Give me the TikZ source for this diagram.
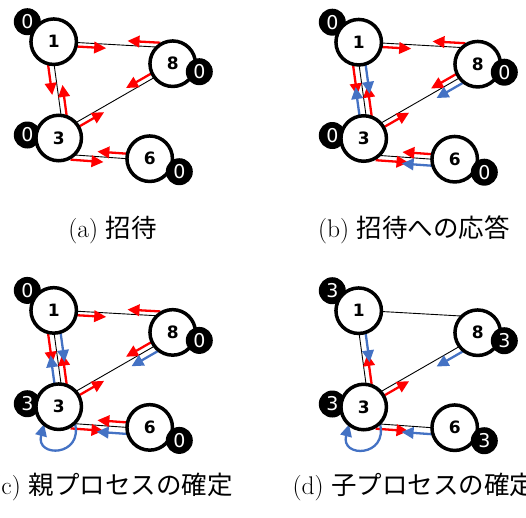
\documentclass[tikz,border=0pt]{standalone}
\usepackage{fontspec}
\usetikzlibrary{calc,arrows.meta}
\newfontfamily\vfont{DejaVu Sans}
\newfontfamily\jpfont{Noto Sans CJK JP}
\definecolor{ackblue}{RGB}{68,114,196}
\pgfdeclarelayer{bg}
\pgfsetlayers{bg,main}

\newcommand\arrlen{30pt}
% message arrow running beside the edge #2--#3, shifted #4 to the right of travel
\newcommand\flow[4]{\draw[#1] ($(#2)!-3pt!(#3)!#4!-90:(#2)$) -- ($(#2)!\arrlen!(#3)!#4!90:(#2)$);}

\tikzset{
  vtx/.style={circle, draw, line width=3.5pt, fill=white, minimum size=45.5pt,
    inner sep=0pt, outer sep=0pt, font=\vfont\bfseries\fontsize{17}{17}\selectfont},
  countbadge/.style={circle, fill=black, minimum size=27pt, inner sep=0pt,
    text=white, font=\vfont\fontsize{19}{19}\selectfont},
  edgeline/.style={line width=0.9pt},
  invite/.style={draw=red, line width=2.3pt, -{Triangle[length=12pt,width=11.5pt]}},
  reply/.style={draw=ackblue, line width=2.3pt, -{Triangle[length=12pt,width=11.5pt]}},
  capt/.style={anchor=base, font=\fontsize{25.5}{30}\selectfont},
}

% four processes with their counters; #1 = name prefix
\newcommand\procgraph[5]{%
  \node[vtx] (#11) at (53.7,41.7) {1};
  \node[vtx] (#18) at (172.7,63.7) {8};
  \node[vtx] (#13) at (58.7,138) {3};
  \node[vtx] (#16) at (149.7,158.7) {6};
  \node[countbadge] (#1t8) at (199.3,71.7) {#3};
  \node[countbadge] (#1t6) at (179.3,171.7) {#5};
  \begin{pgfonlayer}{bg}
    \node[countbadge] (#1t1) at (27.3,21.7) {#2};
    \node[countbadge] (#1t3) at (27.3,135) {#4};
    \draw[edgeline] (#11.-2) -- (#18.133);
    \draw[edgeline] (#11.-89) -- (#13.84);
    \draw[edgeline] (#13.42) -- (#18.-143);
    \draw[edgeline] (#13.-48) -- (#16.180);
  \end{pgfonlayer}}

\newcommand\redA[1]{\flow{invite}{#11.-2}{#18.133}{4pt}}
\newcommand\redB[1]{\flow{invite}{#18.133}{#11.-2}{4.5pt}}
\newcommand\redC[1]{\flow{invite}{#11.-89}{#13.84}{6pt}}
\newcommand\redD[1]{\flow{invite}{#13.84}{#11.-89}{5.5pt}}
\newcommand\redE[1]{\flow{invite}{#13.42}{#18.-143}{5pt}}
\newcommand\redF[1]{\flow{invite}{#18.-143}{#13.42}{5pt}}
\newcommand\redG[1]{\flow{invite}{#13.-48}{#16.180}{5pt}}
\newcommand\redH[1]{\flow{invite}{#16.180}{#13.-48}{5pt}}
\newcommand\bluC[1]{\flow{reply}{#11.-89}{#13.84}{-6.5pt}}
\newcommand\bluD[1]{\flow{reply}{#13.84}{#11.-89}{-6.5pt}}
\newcommand\bluF[1]{\flow{reply}{#18.-143}{#13.42}{-6pt}}
\newcommand\bluH[1]{\flow{reply}{#16.180}{#13.-48}{-6.5pt}}
\newcommand\selfloop[1]{\draw[reply] (#13.-45) .. controls +(9,34) and +(-9,34) .. (#13.-130);}

\begin{document}
\begin{tikzpicture}[x=1pt, y=-1pt]
\useasboundingbox (0,0) rectangle (526,517);
\clip (0,0) rectangle (526,517);

% (a) invitations
\begin{scope}
  \procgraph{a}{0}{0}{0}{0}
  \begin{pgfonlayer}{bg}
    \redA{a}\redB{a}\redC{a}\redD{a}\redE{a}\redF{a}\redG{a}\redH{a}
  \end{pgfonlayer}
\end{scope}

% (b) replies to the invitations
\begin{scope}[shift={(305,0.5)}]
  \procgraph{b}{0}{0}{0}{0}
  \begin{pgfonlayer}{bg}
    \redA{b}\redB{b}\redC{b}\redD{b}\redE{b}\redF{b}\redG{b}\redH{b}
    \bluC{b}\bluD{b}\bluF{b}\bluH{b}
  \end{pgfonlayer}
\end{scope}

% (c) parent chosen
\begin{scope}[shift={(0,268.7)}]
  \procgraph{c}{0}{0}{3}{0}
  \begin{pgfonlayer}{bg}
    \redA{c}\redB{c}\redC{c}\redD{c}\redE{c}\redF{c}\redG{c}\redH{c}
    \bluC{c}\bluD{c}\bluF{c}\bluH{c}
    \selfloop{c}
  \end{pgfonlayer}
\end{scope}

% (d) children chosen
\begin{scope}[shift={(305,269)}]
  \procgraph{d}{3}{3}{3}{3}
  \begin{pgfonlayer}{bg}
    \redD{d}\redE{d}\redG{d}
    \bluC{d}\bluF{d}\bluH{d}
    \selfloop{d}
  \end{pgfonlayer}
\end{scope}

\node[capt] (capa) at (112.5,237) {(a) {\jpfont 招待}};
\node[capt] (capb) at (414,237) {(b) {\jpfont 招待への応答}};
\node[capt] (capc) at (112.5,494) {(c) {\jpfont 親プロセスの確定}};
\node[capt] (capd) at (414,494) {(d) {\jpfont 子プロセスの確定}};
\end{tikzpicture}
\end{document}
